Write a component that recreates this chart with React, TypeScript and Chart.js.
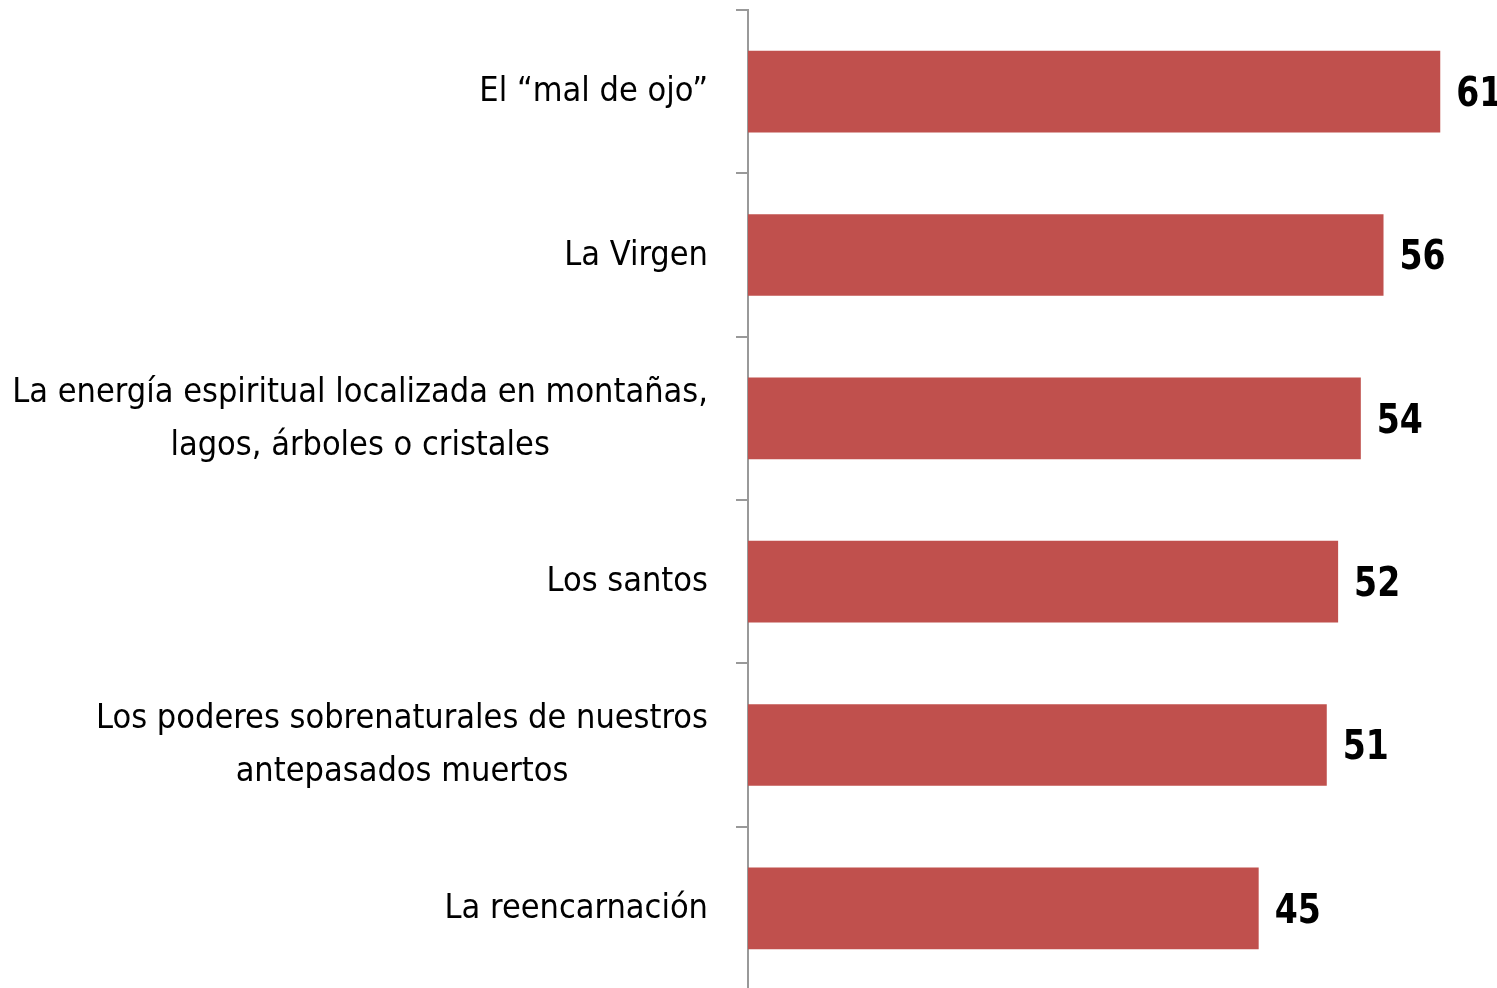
import React, { useEffect, useRef } from "react";
import { Chart, registerables } from "chart.js";

Chart.register(...registerables);

const categories: string[][] = [
  ["El \u201cmal de ojo\u201d"],
  ["La Virgen"],
  ["La energía espiritual localizada en montañas,", "lagos, árboles o cristales"],
  ["Los santos"],
  ["Los poderes sobrenaturales de nuestros", "antepasados muertos"],
  ["La reencarnación"],
];
const values: number[] = [61, 56, 54, 52, 51, 45];

const BAR_COLOR = "#C0504D";
const AXIS_COLOR = "#999999";
const LABEL_FONT = "34px 'DejaVu Sans Condensed', 'DejaVu Sans', sans-serif";
const VALUE_FONT = "bold 40px 'DejaVu Sans Condensed', 'DejaVu Sans', sans-serif";
const VALUE_SQUEEZE = 0.92;

const labelPlugin = {
  id: "customLabels",
  afterDraw(chart: any) {
    const ctx = chart.ctx;
    const yScale = chart.scales.y;
    const xScale = chart.scales.x;
    ctx.save();
    ctx.fillStyle = "#000";
    ctx.textBaseline = "middle";
    const rightX = yScale.right - 40;
    const lineH = 53;
    categories.forEach((lines, i) => {
      const cy = yScale.getPixelForValue(i) + 1;
      ctx.font = LABEL_FONT;
      const firstW = ctx.measureText(lines[0]).width;
      const cx = rightX - firstW / 2;
      const startY = cy - ((lines.length - 1) * lineH) / 2;
      lines.forEach((ln, j) => {
        const y = startY + j * lineH;
        if (j === 0) {
          ctx.textAlign = "right";
          ctx.fillText(ln, rightX, y);
        } else {
          ctx.textAlign = "center";
          ctx.fillText(ln, cx, y);
        }
      });
      ctx.font = VALUE_FONT;
      ctx.textAlign = "left";
      const vx = xScale.getPixelForValue(values[i]) + 16;
      const vy = yScale.getPixelForValue(i) + 4;
      ctx.save();
      ctx.translate(vx, vy);
      ctx.scale(VALUE_SQUEEZE, 1);
      ctx.fillText(String(values[i]), 0, 0);
      ctx.restore();
    });
    ctx.restore();
  },
};

export default function App() {
  const ref = useRef<HTMLCanvasElement | null>(null);
  useEffect(() => {
    document.body.style.margin = "0";
    document.body.style.overflow = "hidden";
    if (!ref.current) return;
    const chart = new Chart(ref.current, {
      type: "bar",
      data: {
        labels: categories.map((c) => c.join(" ")),
        datasets: [
          {
            data: values,
            backgroundColor: BAR_COLOR,
            barPercentage: 0.5,
            categoryPercentage: 1,
          },
        ],
      },
      options: {
        indexAxis: "y",
        animation: false,
        responsive: false,
        maintainAspectRatio: false,
        layout: { padding: { top: 10, bottom: 2, left: 0, right: 0 } },
        plugins: { legend: { display: false }, tooltip: { enabled: false } },
        scales: {
          x: { display: false, min: 0, max: 66 },
          y: {
            ticks: { display: false },
            grid: {
              display: true,
              drawOnChartArea: false,
              drawTicks: true,
              tickLength: 12,
              color: AXIS_COLOR,
              lineWidth: 2,
            },
            border: { display: true, color: AXIS_COLOR, width: 2 },
            afterFit(scale: any) {
              scale.width = 748;
            },
          },
        },
      },
      plugins: [labelPlugin],
    });
    return () => chart.destroy();
  }, []);
  return (
    <div style={{ width: 1497, height: 992 }}>
      <canvas ref={ref} width={1497} height={992} style={{ display: "block" }} />
    </div>
  );
}
